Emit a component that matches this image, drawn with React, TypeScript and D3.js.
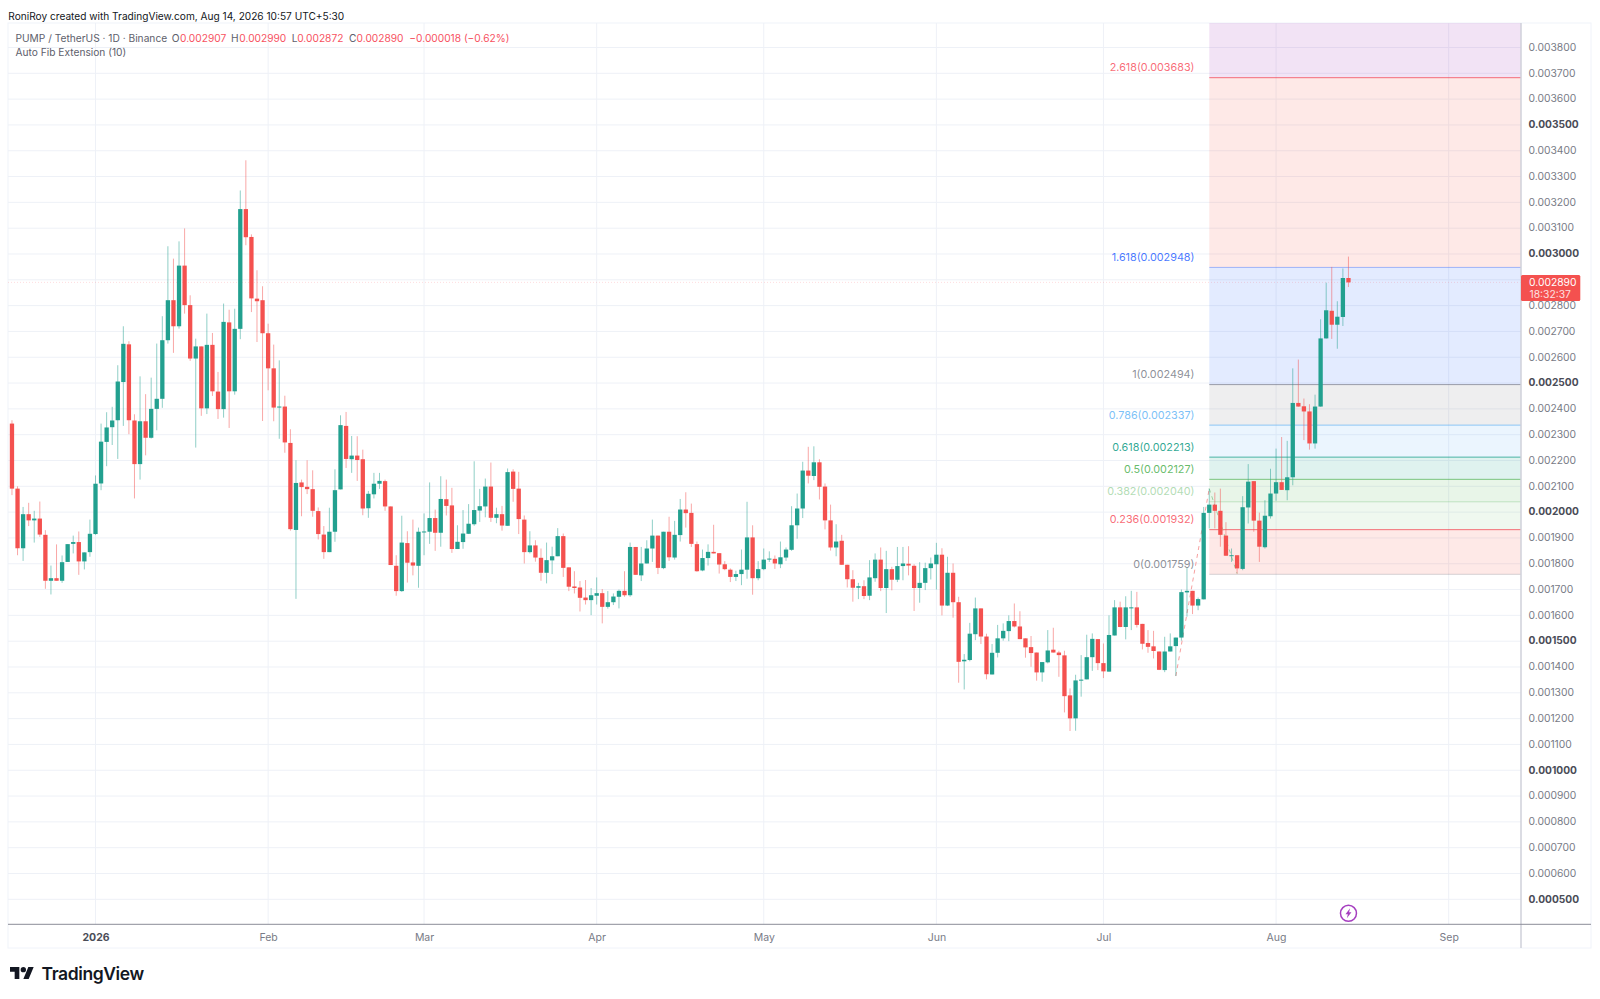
import { useEffect, useRef } from "react"
import * as d3 from "d3"

// PUMP/USDT daily candles, prices in millionths of USDT, first candle 2025-12-17
const opens = [
  2343,2091,1860,1992,1968,1975,1912,1734,1744,1734,
  1807,1877,1884,1809,1845,1915,2111,2272,2329,2356,
  2504,2650,2355,2186,2352,2288,2400,2439,2666,2821,
  2720,2955,2802,2595,2642,2402,2648,2467,2399,2735,
  2468,2710,3174,3066,2827,2821,2693,2557,2406,2409,
  2268,1931,2115,2098,2089,2004,1913,1845,1924,2088,
  2334,2205,2219,2205,2015,2069,2110,2120,2022,1792,
  1694,1880,1805,1792,1924,1924,1977,1920,2050,2026,
  1857,1884,1916,1953,2006,2022,2099,1978,1992,1947,
  2157,2091,1971,1845,1871,1823,1765,1813,1829,1907,
  1786,1712,1708,1669,1659,1676,1686,1633,1651,1672,
  1695,1678,1865,1755,1801,1859,1909,1783,1924,1824,
  1911,2010,1997,1876,1774,1822,1846,1841,1798,1777,
  1749,1760,1777,1902,1744,1779,1816,1819,1798,1824,
  1854,1949,2014,2161,2140,2193,2099,1968,1863,1889,
  1796,1740,1707,1713,1676,1744,1816,1706,1779,1738,
  1791,1800,1792,1706,1726,1783,1798,1835,1638,1765,
  1651,1422,1427,1527,1627,1518,1371,1455,1511,1539,
  1578,1557,1511,1477,1456,1379,1418,1467,1456,1445,
  1290,1201,1347,1352,1438,1508,1415,1382,1522,1631,
  1555,1629,1631,1567,1493,1480,1460,1388,1460,1481,
  1514,1689,1695,1638,1662,1997,2029,2005,1909,1831,
  1833,1780,2018,2120,1967,1864,1984,2072,2116,2085,
  2135,2423,2410,2390,2266,2409,2673,2780,2726,2756,2907,
]
const closes = [
  2091,1860,1992,1968,1975,1913,1734,1744,1734,1806,
  1876,1884,1809,1844,1916,2110,2273,2328,2355,2506,
  2652,2356,2186,2352,2288,2400,2439,2666,2821,2720,
  2955,2802,2595,2642,2402,2648,2468,2399,2737,2468,
  2710,3174,3065,2828,2817,2693,2557,2405,2409,2270,
  1934,2113,2097,2089,2005,1915,1845,1924,2085,2337,
  2206,2219,2202,2014,2071,2110,2121,2022,1795,1694,
  1882,1804,1793,1924,1925,1977,1920,2051,2024,1857,
  1885,1917,1955,2008,2023,2099,1978,1992,1948,2155,
  2090,1973,1845,1871,1824,1765,1814,1829,1907,1784,
  1711,1706,1668,1659,1678,1686,1633,1651,1673,1695,
  1678,1865,1757,1801,1859,1909,1784,1924,1825,1912,
  2010,1996,1877,1771,1822,1846,1840,1797,1779,1749,
  1760,1777,1902,1744,1779,1816,1820,1801,1825,1855,
  1949,2014,2161,2141,2193,2098,1968,1863,1886,1796,
  1740,1707,1713,1675,1747,1816,1706,1779,1738,1791,
  1801,1793,1706,1726,1783,1801,1835,1638,1765,1651,
  1420,1428,1529,1627,1518,1372,1455,1511,1540,1578,
  1557,1508,1476,1454,1379,1419,1464,1456,1446,1287,
  1201,1348,1351,1438,1509,1415,1383,1524,1631,1555,
  1631,1631,1563,1490,1478,1462,1389,1460,1480,1514,
  1690,1695,1638,1663,1997,2029,2005,1912,1831,1833,
  1782,2019,2118,1967,1866,1986,2072,2116,2086,2135,
  2423,2409,2390,2266,2409,2673,2782,2726,2757,2907,2890,
]
const highs = [
  2356,2100,2020,2036,2005,2041,1930,1793,1875,1832,
  1876,1909,1925,1844,1971,2142,2343,2387,2408,2569,
  2720,2662,2379,2526,2457,2521,2653,2759,3030,2982,
  3049,3099,2840,2672,2642,2769,2694,2543,2808,2784,
  2788,3246,3363,3076,2937,2875,2730,2649,2588,2451,
  2321,2201,2126,2201,2162,2018,1946,2017,2166,2375,
  2388,2295,2294,2242,2082,2152,2152,2126,2022,1833,
  1986,1926,1971,1940,1995,2115,2010,2139,2126,2094,
  1949,2008,2031,2197,2090,2130,2192,2017,2024,2169,
  2166,2156,1987,1926,1891,1859,1882,1866,1938,1917,
  1786,1771,1733,1737,1706,1747,1702,1694,1685,1700,
  1771,1882,1865,1865,1891,1971,1909,1924,1982,1966,
  2051,2077,2033,1886,1855,1875,1951,1841,1810,1782,
  1773,1855,2040,1949,1810,1859,1848,1832,1886,1863,
  2023,2072,2195,2253,2255,2205,2111,2029,1953,1912,
  1796,1775,1726,1736,1814,1840,1863,1850,1788,1865,
  1865,1868,1798,1806,1804,1824,1881,1860,1827,1801,
  1672,1450,1571,1669,1627,1529,1489,1563,1569,1600,
  1646,1616,1511,1520,1456,1419,1543,1552,1463,1463,
  1317,1370,1446,1525,1530,1508,1491,1600,1659,1653,
  1674,1695,1691,1567,1543,1540,1460,1517,1530,1514,
  1700,1786,1695,1669,2020,2091,2076,2091,1961,1859,
  1833,2062,2186,2120,1998,2046,2168,2246,2291,2276,
  2557,2591,2440,2418,2455,2747,2889,2950,2817,2944,2990,
]
const lows = [
  2066,1833,1811,1946,1882,1904,1703,1681,1734,1726,
  1807,1840,1757,1778,1827,1912,2085,2178,2260,2206,
  2334,2302,2053,2126,2220,2285,2317,2404,2653,2617,
  2711,2769,2586,2250,2373,2380,2450,2361,2366,2326,
  2455,2670,3034,2775,2659,2353,2472,2352,2284,2230,
  1928,1664,1984,2070,1982,1894,1819,1845,1885,2088,
  2171,2152,2121,1988,1978,2053,2090,2005,1795,1676,
  1691,1727,1755,1707,1833,1877,1850,1866,1987,1842,
  1857,1858,1915,1947,1962,1980,1962,1957,1928,1947,
  2040,1915,1801,1840,1808,1734,1724,1760,1829,1749,
  1694,1685,1615,1642,1601,1642,1569,1626,1640,1627,
  1672,1672,1757,1733,1801,1807,1760,1779,1811,1816,
  1886,1940,1865,1769,1771,1793,1840,1762,1775,1729,
  1733,1717,1742,1680,1736,1775,1807,1780,1783,1811,
  1850,1897,1977,2111,2124,2049,1933,1851,1829,1796,
  1708,1653,1663,1663,1659,1730,1694,1609,1697,1729,
  1736,1755,1617,1649,1698,1739,1700,1600,1636,1591,
  1339,1313,1422,1504,1489,1352,1371,1437,1502,1500,
  1553,1508,1436,1401,1347,1343,1414,1456,1362,1224,
  1152,1153,1285,1352,1385,1388,1357,1382,1522,1554,
  1507,1543,1553,1468,1455,1433,1388,1380,1460,1365,
  1502,1595,1605,1620,1662,1937,1937,1866,1831,1807,
  1762,1775,1956,1924,1807,1859,1975,2044,2086,2046,
  2104,2408,2279,2242,2246,2408,2672,2671,2633,2721,2872,
]

const fibRatios = ["2.618", "1.618", "1", "0.786", "0.618", "0.5", "0.382", "0.236", "0"]
const fibPrices = [3683, 2948, 2494, 2337, 2213, 2127, 2040, 1932, 1759]
const fibColors = ["#f23645", "#2962ff", "#787b86", "#64b5f6", "#089981", "#4caf50", "#81c784", "#f23645", "#787b86"]
const fibZoneColors = ["#9c27b0", "#f5402f", "#2962ff", "#787b86", "#64b5f6", "#089981", "#4caf50", "#81c784", "#f5402f"]

const priceTicks = d3.range(500, 3801, 100)
const monthTicks = [
  ["2026", 0],
  ["Feb", 1],
  ["Mar", 2],
  ["Apr", 3],
  ["May", 4],
  ["Jun", 5],
  ["Jul", 6],
  ["Aug", 7],
  ["Sep", 8],
] as [string, number][]

const legendParts = [
  ["PUMP / TetherUS · 1D · Binance", 15.5, "#5d606b"],
  ["O", 171.7, "#5d606b"],
  ["0.002907", 180, "#f7525f"],
  ["H", 231, "#5d606b"],
  ["0.002990", 239.3, "#f7525f"],
  ["L", 291.7, "#5d606b"],
  ["0.002872", 297.2, "#f7525f"],
  ["C", 349, "#5d606b"],
  ["0.002890", 356.6, "#f7525f"],
  ["−0.000018 (−0.62%)", 409.3, "#f7525f"],
] as [string, number, string][]

const trendPivots = [209, 215, 220]

const UP = "#22a08f"
const DOWN = "#f4514f"
const FONT = "Inter, 'Noto Sans', sans-serif"

export default function App() {
  const svgRef = useRef<SVGSVGElement>(null)

  useEffect(() => {
    if (!svgRef.current) return
    const svg = d3.select(svgRef.current)
    svg.selectAll("*").remove()

    const plot = { left: 8, right: 1521, top: 23, bottom: 924.3, outerRight: 1591, outerBottom: 948 }

    const day = (i: number) => new Date(Date.UTC(2025, 11, 17 + i))
    const month = (m: number) => new Date(Date.UTC(2026, m, 1))

    const xScale = d3.scaleUtc().domain([month(0), month(8)]).range([95.5, 1448.7])
    const yScale = d3.scaleLinear().domain([500, 3800]).range([899.3, 47.5])

    // Frame
    svg
      .append("rect")
      .attr("x", plot.left)
      .attr("y", plot.top)
      .attr("width", plot.outerRight - plot.left)
      .attr("height", plot.outerBottom - plot.top)
      .attr("fill", "#fff")
      .attr("stroke", "#f0f3fa")

    // Grid lines
    const grid = svg.append("g").attr("stroke", "#eef1f7").attr("stroke-width", 1)
    grid
      .selectAll("line.h")
      .data(priceTicks)
      .enter()
      .append("line")
      .attr("x1", plot.left)
      .attr("x2", plot.right)
      .attr("y1", (d) => yScale(d))
      .attr("y2", (d) => yScale(d))
    grid
      .selectAll("line.v")
      .data(monthTicks)
      .enter()
      .append("line")
      .attr("x1", (d) => xScale(month(d[1])))
      .attr("x2", (d) => xScale(month(d[1])))
      .attr("y1", plot.top)
      .attr("y2", plot.bottom)

    // Fib zones: each one runs from its level up to the next level above
    const zoneLeft = 1209.3
    svg
      .append("g")
      .selectAll("rect")
      .data(fibPrices)
      .enter()
      .append("rect")
      .attr("x", zoneLeft)
      .attr("width", plot.right - zoneLeft)
      .attr("y", (d, i) => (i === 0 ? plot.top : yScale(fibPrices[i - 1])))
      .attr("height", (d, i) => yScale(d) - (i === 0 ? plot.top : yScale(fibPrices[i - 1])))
      .attr("fill", (d, i) => fibZoneColors[i])
      .attr("fill-opacity", (d, i) => (i === 1 || i === 8 ? 0.115 : 0.13))

    svg
      .append("g")
      .selectAll("line")
      .data(fibPrices)
      .enter()
      .append("line")
      .attr("x1", zoneLeft)
      .attr("x2", plot.right)
      .attr("y1", (d) => yScale(d))
      .attr("y2", (d) => yScale(d))
      .attr("stroke", (d, i) => fibColors[i])
      .attr("stroke-width", 1)
      .attr("stroke-opacity", (d, i) => (i === 8 ? 0.3 : i === 1 || i === 6 ? 0.4 : 0.7))

    // Auto fib trend lines
    const trendLow = [xScale(day(trendPivots[0])), yScale(lows[trendPivots[0]])]
    const trendHigh = [xScale(day(trendPivots[1])), yScale(highs[trendPivots[1]])]
    const trendEnd = [xScale(day(trendPivots[2])), yScale(lows[trendPivots[2]])]
    svg
      .append("line")
      .attr("x1", trendLow[0])
      .attr("y1", trendLow[1])
      .attr("x2", trendHigh[0])
      .attr("y2", trendHigh[1])
      .attr("stroke", "#f7a0a0")
      .attr("stroke-dasharray", "4 4")
    svg
      .append("line")
      .attr("x1", trendHigh[0])
      .attr("y1", trendHigh[1])
      .attr("x2", trendEnd[0])
      .attr("y2", trendEnd[1])
      .attr("stroke", "#9fd0a2")
      .attr("stroke-dasharray", "4 4")

    // Last price line
    const last = closes[closes.length - 1]
    svg
      .append("line")
      .attr("x1", plot.left)
      .attr("x2", plot.right)
      .attr("y1", yScale(last))
      .attr("y2", yScale(last))
      .attr("stroke", "#f7525f")
      .attr("stroke-opacity", 0.2)
      .attr("stroke-dasharray", "1 2")

    // Candles
    const candles = opens.map((open, i) => ({
      date: day(i),
      open,
      close: closes[i],
      high: highs[i],
      low: lows[i],
    }))
    const color = (d: { open: number; close: number }) => (d.close >= d.open ? UP : DOWN)
    const bars = svg.append("g").selectAll("g").data(candles).enter().append("g")
    bars
      .append("line")
      .attr("x1", (d) => xScale(d.date))
      .attr("x2", (d) => xScale(d.date))
      .attr("y1", (d) => yScale(d.high))
      .attr("y2", (d) => yScale(d.low))
      .attr("stroke", color)
      .attr("stroke-width", 1)
      .attr("stroke-opacity", 0.5)
    bars
      .append("rect")
      .attr("x", (d) => xScale(d.date) - 2.15)
      .attr("width", 4.3)
      .attr("y", (d) => yScale(Math.max(d.open, d.close)))
      .attr("height", (d) => Math.max(1, Math.abs(yScale(d.open) - yScale(d.close))))
      .attr("fill", color)

    // Fib labels
    svg
      .append("g")
      .selectAll("text")
      .data(fibPrices)
      .enter()
      .append("text")
      .attr("x", 1194.5)
      .attr("y", (d) => yScale(d) - 6.5)
      .attr("text-anchor", "end")
      .attr("font-family", FONT)
      .attr("font-size", 10.8)
      .attr("fill", (d, i) => (i === 6 ? "#a5d6a7" : i === 0 || i === 7 ? "#f7525f" : fibColors[i]))
      .attr("fill-opacity", 0.85)
      .text((d, i) => `${fibRatios[i]}(${(d / 1e6).toFixed(6)})`)

    // Price axis
    svg
      .append("line")
      .attr("x1", plot.right)
      .attr("x2", plot.right)
      .attr("y1", plot.top)
      .attr("y2", plot.outerBottom)
      .attr("stroke", "#cfd1da")
      .attr("stroke-width", 1.5)
    const yAxis = d3
      .axisRight(yScale)
      .tickValues(priceTicks)
      .tickSize(0)
      .tickPadding(7.5)
      .tickFormat((d) => (+d / 1e6).toFixed(6))
    const yAxisG = svg.append("g").attr("transform", `translate(${plot.right},-0.5)`).call(yAxis)
    yAxisG.select(".domain").remove()
    yAxisG
      .selectAll<SVGTextElement, number>("text")
      .attr("font-family", FONT)
      .attr("font-size", (d) => (d % 500 === 0 ? 10.2 : 10.3))
      .attr("font-weight", (d) => (d % 500 === 0 ? 700 : 400))
      .attr("fill", (d) => (d % 500 === 0 ? "#4a4c57" : "#787b86"))

    // Last price tag
    svg
      .append("rect")
      .attr("x", plot.right)
      .attr("y", 275)
      .attr("width", 59.3)
      .attr("height", 26)
      .attr("rx", 1.5)
      .attr("fill", "#f4514f")
    svg
      .append("text")
      .attr("x", 1529)
      .attr("y", 286)
      .attr("font-family", FONT)
      .attr("font-size", 10.3)
      .attr("fill", "#fff")
      .text((last / 1e6).toFixed(6))
    svg
      .append("text")
      .attr("x", 1529.5)
      .attr("y", 298)
      .attr("font-family", FONT)
      .attr("font-size", 10.3)
      .attr("fill", "#fde0e0")
      .text("18:32:37")

    // Time axis
    const xAxis = d3
      .axisBottom(xScale)
      .tickValues(monthTicks.map((d) => month(d[1])))
      .tickSize(0)
      .tickPadding(9)
      .tickFormat((d, i) => monthTicks[i][0])
    const xAxisG = svg.append("g").attr("transform", `translate(0,${plot.bottom})`).call(xAxis)
    xAxisG.select(".domain").remove()
    xAxisG
      .selectAll<SVGTextElement, Date>("text")
      .attr("font-family", FONT)
      .attr("font-size", 10.5)
      .attr("font-weight", (d, i) => (i === 0 ? 700 : 400))
      .attr("fill", (d, i) => (i === 0 ? "#4a4c57" : "#787b86"))
    svg
      .append("line")
      .attr("x1", plot.left)
      .attr("x2", plot.outerRight)
      .attr("y1", plot.bottom)
      .attr("y2", plot.bottom)
      .attr("stroke", "#8b8d98")
      .attr("stroke-width", 1)

    // Event marker
    const marker = svg.append("g").attr("transform", `translate(${xScale(day(opens.length - 1))},913.3)`)
    marker.append("circle").attr("r", 8).attr("fill", "#fff").attr("stroke", "#a63fc0").attr("stroke-width", 1.5)
    marker.append("path").attr("d", "M1.6,-5 L-3,1 H-0.6 L-1.6,5 L3,-1 H0.6 Z").attr("fill", "#a63fc0")

    // Header and legend
    svg
      .append("text")
      .attr("x", 8.3)
      .attr("y", 19.5)
      .attr("font-family", FONT)
      .attr("font-size", 10.15)
      .attr("fill", "#131722")
      .text("RoniRoy created with TradingView.com, Aug 14, 2026 10:57 UTC+5:30")
    svg
      .append("g")
      .selectAll("text")
      .data(legendParts)
      .enter()
      .append("text")
      .attr("x", (d) => d[1])
      .attr("y", 42)
      .attr("font-family", FONT)
      .attr("font-size", 10.2)
      .attr("fill", (d) => d[2])
      .text((d) => d[0])
    svg
      .append("text")
      .attr("x", 15.5)
      .attr("y", 56)
      .attr("font-family", FONT)
      .attr("font-size", 10.2)
      .attr("fill", "#5d606b")
      .text("Auto Fib Extension (10)")

    // TradingView logo
    const logo = svg.append("g").attr("transform", "translate(10,964.3) scale(0.667)").attr("fill", "#131722")
    logo.append("path").attr("d", "M14 22H7V11H0V4h14v18zM28 22h-8l7.5-18h8L28 22z")
    logo.append("circle").attr("cx", 20).attr("cy", 8).attr("r", 4)
    svg
      .append("text")
      .attr("x", 41.5)
      .attr("y", 979.5)
      .attr("font-family", FONT)
      .attr("font-size", 17.5)
      .attr("font-weight", 600)
      .attr("letter-spacing", -0.4)
      .attr("fill", "#131722")
      .text("TradingView")
  }, [])

  return (
    <svg
      ref={svgRef}
      width={1600}
      height={999}
      style={{ position: "absolute", left: 0, top: 0, background: "#fff" }}
    />
  )
}
